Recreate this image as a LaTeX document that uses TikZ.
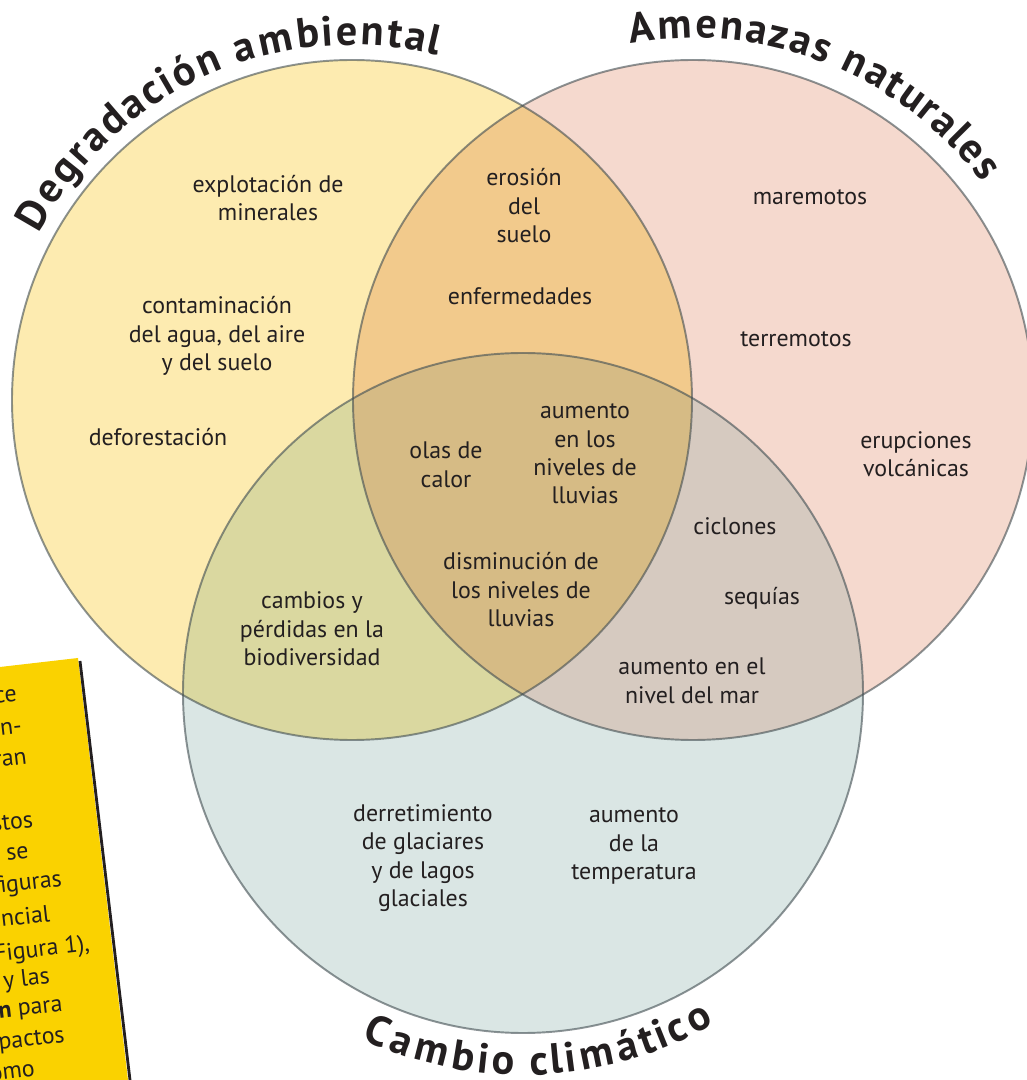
\documentclass[tikz,border=0pt]{standalone}
\usepackage{fontspec}
\setmainfont{PT Sans}
\usetikzlibrary{decorations.text}

\definecolor{degr}{HTML}{FDEBB0}
\definecolor{amen}{HTML}{F5D9CE}
\definecolor{camb}{HTML}{DAE6E4}
\definecolor{degramen}{HTML}{F2CA8C}
\definecolor{degrcamb}{HTML}{DAD8A0}
\definecolor{amencamb}{HTML}{D6CAC0}
\definecolor{todos}{HTML}{D6BB85}
\definecolor{rim}{HTML}{404C50}
\definecolor{ink}{HTML}{231F20}
\definecolor{notefill}{HTML}{FAD200}

\newcommand{\titlefnt}{\fontsize{24}{26}\selectfont\bfseries}

\begin{document}
\begin{tikzpicture}[
    x=0.02cm,y=0.02cm,
    zone/.style={draw=rim,draw opacity=0.6,line width=1.1pt},
    lbl/.style={align=center,text=ink,inner sep=0pt,font=\fontsize{13.6}{16.2}\selectfont},
    frag/.style={text=ink,inner sep=0pt,anchor=east,rotate=6.5,font=\fontsize{13.6}{16.2}\selectfont},
    title/.style={decorate,decoration={text effects along path,text={#1},text effects/.cd,text along path,fit text to path,characters={text=ink,font=\titlefnt}}}
    ]
    \useasboundingbox (0,0) rectangle (1027,1080);
    \clip (0,0) rectangle (1027,1080);
    \fill[white] (0,0) rectangle (1027,1080);

    % yellow note at the left edge
    \fill[notefill] (0,413) -- (78,422) -- (128,0) -- (0,0) -- cycle;
    \draw[ink,line width=1.6pt] (80,419) -- (130,0);
    \node[frag] (n1) at (17,385) {ce};
    \node[frag] (n2) at (22,353) {n-};
    \node[frag] (n3) at (27,322) {ran};
    \node[frag] (n4) at (33,260) {stos};
    \node[frag] (n5) at (29,228) {o se};
    \node[frag] (n6) at (62,200) {figuras};
    \node[frag] (n7) at (50,167) {encial};
    \node[frag] (n8) at (90,135) {(Figura 1),};
    \node[frag] (n9) at (50,103) {, y las};
    \node[frag] (n10) at (63,73) {\textbf{n} para};
    \node[frag] (n11) at (65,43) {pactos};
    \node[frag] (n12) at (35,10) {omo};

    % circles
    \coordinate (cD) at (352,680);
    \coordinate (cA) at (693,680);
    \coordinate (cC) at (523,387);
    \fill[degr] (cD) circle[radius=340];
    \fill[amen] (cA) circle[radius=340];
    \fill[camb] (cC) circle[radius=340];
    \begin{scope}
      \clip (cD) circle[radius=340];
      \fill[degramen] (cA) circle[radius=340];
      \fill[degrcamb] (cC) circle[radius=340];
    \end{scope}
    \begin{scope}
      \clip (cA) circle[radius=340];
      \fill[amencamb] (cC) circle[radius=340];
    \end{scope}
    \begin{scope}
      \clip (cD) circle[radius=340];
      \clip (cA) circle[radius=340];
      \fill[todos] (cC) circle[radius=340];
    \end{scope}
    \draw[zone] (cD) circle[radius=340];
    \draw[zone] (cA) circle[radius=340];
    \draw[zone] (cC) circle[radius=340];

    % titles
    \path[title=Degradación ambiental,shift={(cD)}] (152:355) arc[start angle=152,end angle=76,radius=355];
    \path[title=Amenazas naturales,shift={(cA)}] (100:362) arc[start angle=100,end angle=37,radius=362];
    \path[title=Cambio climático,shift={(cC)}] (245:382) arc[start angle=245,end angle=300,radius=382];

    % labels
    \node[lbl] (explot) at (268,882) {explotación de\\minerales};
    \node[lbl] (contam) at (217,744) {contaminación\\del agua, del aire\\y del suelo};
    \node[lbl] (defor) at (158,643) {deforestación};
    \node[lbl] (erosion) at (524,874) {erosión\\del\\suelo};
    \node[lbl] (enferm) at (520,784) {enfermedades};
    \node[lbl] (marem) at (810,883) {maremotos};
    \node[lbl] (terrem) at (796,741) {terremotos};
    \node[lbl] (erupc) at (916,626) {erupciones\\volcánicas};
    \node[lbl] (olas) at (446,615) {olas de\\calor};
    \node[lbl] (aumlluv) at (585,626) {aumento\\en los\\niveles de\\lluvias};
    \node[lbl] (dismin) at (521,490) {disminución de\\los niveles de\\lluvias};
    \node[lbl] (biodiv) at (312,451) {cambios y\\pérdidas en la\\biodiversidad};
    \node[lbl] (ciclon) at (735,554) {ciclones};
    \node[lbl] (sequia) at (762,482) {sequías};
    \node[lbl] (nivmar) at (692,399) {aumento en el\\nivel del mar};
    \node[lbl] (derret) at (423,222) {derretimiento\\de glaciares\\y de lagos\\glaciales};
    \node[lbl] (temper) at (634,234) {aumento\\de la\\temperatura};
  \end{tikzpicture}
\end{document}
